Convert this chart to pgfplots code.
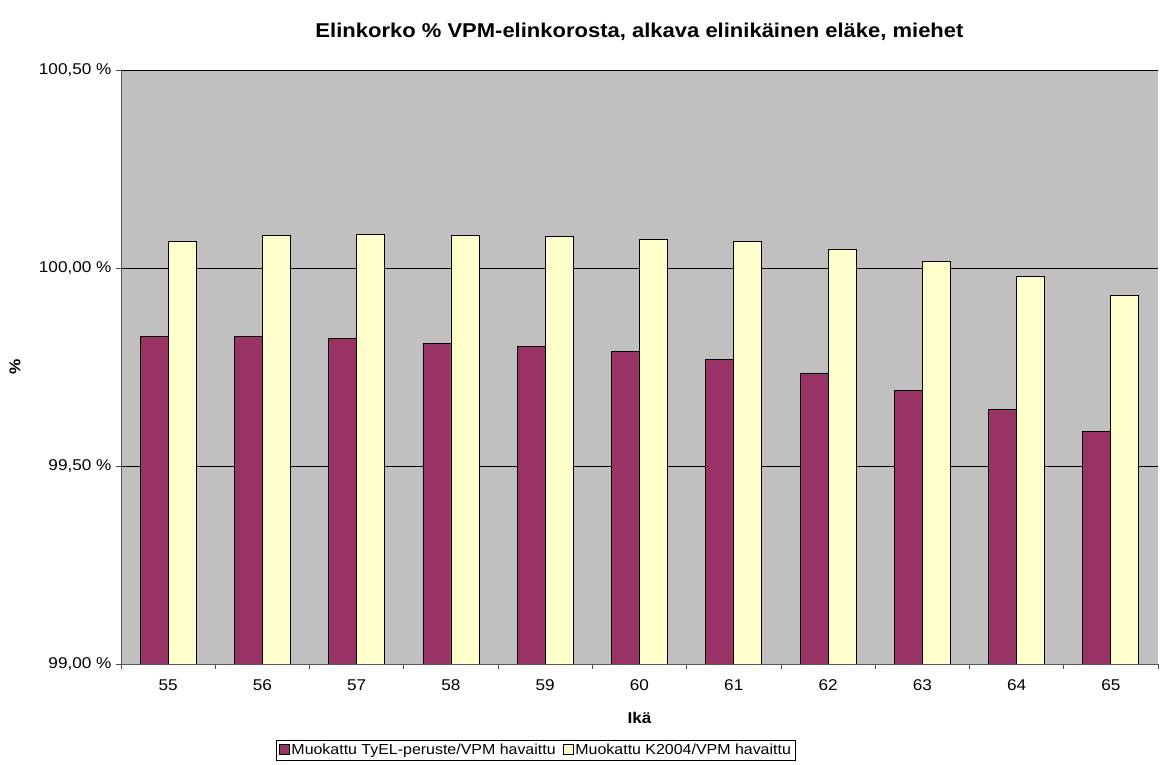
\documentclass[border=0pt]{standalone}
\usepackage{pgfplots}
\pgfplotsset{compat=1.18}
\usepackage{fontspec}
\setmainfont[FakeStretch=1.1]{Liberation Sans}
\definecolor{barP}{HTML}{993366}
\definecolor{barY}{HTML}{FFFFCC}
\definecolor{bgG}{HTML}{C0C0C0}
\begin{document}
\begin{tikzpicture}[x=1pt,y=1pt]
\useasboundingbox (0,0) rectangle (1167,765);
\begin{axis}[
  at={(121pt,101pt)}, anchor=south west,
  scale only axis, width=1037pt, height=594pt,
  xmin=0.5, xmax=11.5, ymin=99, ymax=100.5,
  axis background/.style={fill=bgG},
  axis x line*=bottom, axis y line*=left,
  axis line style={draw=black!65, line width=0.8pt},
  ybar=0pt, bar width=28pt,
  xtick={1,...,11},
  xticklabels={55,56,57,58,59,60,61,62,63,64,65},
  minor xtick={0.5,1.5,...,11.5},
  major x tick style={draw=none},
  minor tick length=5pt,
  ytick={99,99.5,100,100.5},
  yticklabels={{99,00 \%},{99,50 \%},{100,00 \%},{100,50 \%}},
  tick align=outside, major tick length=5pt,
  tick style={black!70, line width=0.8pt},
  ymajorgrids, grid style={black, line width=0.6pt},
  ticklabel style={font=\fontsize{15.6}{18}\selectfont},
  xticklabel style={yshift=-7pt},
  yticklabel style={xshift=-1pt},
  /pgf/number format/assume math mode=true,
  title={\bfseries Elinkorko \% VPM-elinkorosta, alkava elinikäinen eläke, miehet},
  title style={font=\fontsize{20}{22}\selectfont, at={(0.5,1)}, yshift=20pt},
  xlabel={\bfseries Ikä},
  xlabel style={font=\fontsize{15.6}{18}\selectfont, yshift=-15pt},
  ylabel={\bfseries \%},
  ylabel style={font=\fontsize{15.6}{18}\selectfont, at={(rel axis cs:0,0.5)}, anchor=center, rotate=0, yshift=106pt},
  legend columns=2,
  legend style={at={(0.4,-0.145)}, anchor=center, draw=black, fill=white,
    font=\fontsize{14.5}{17}\selectfont, inner sep=2pt,
    /tikz/every even column/.append style={column sep=5pt}},
  legend image code/.code={\draw[#1, draw=black] (0pt,-4.5pt) rectangle (10pt,5.5pt);},
  clip=true,
]
\addplot[fill=barP, draw=black, line width=0.8pt] coordinates {
 (1,99.828) (2,99.828) (3,99.822) (4,99.809) (5,99.801) (6,99.789)
 (7,99.769) (8,99.735) (9,99.690) (10,99.643) (11,99.587)};
\addplot[fill=barY, draw=black, line width=0.8pt] coordinates {
 (1,100.068) (2,100.083) (3,100.086) (4,100.083) (5,100.079) (6,100.071)
 (7,100.066) (8,100.048) (9,100.016) (10,99.979) (11,99.932)};
\legend{Muokattu TyEL-peruste/VPM havaittu, Muokattu K2004/VPM havaittu}
\end{axis}
\end{tikzpicture}
\end{document}
